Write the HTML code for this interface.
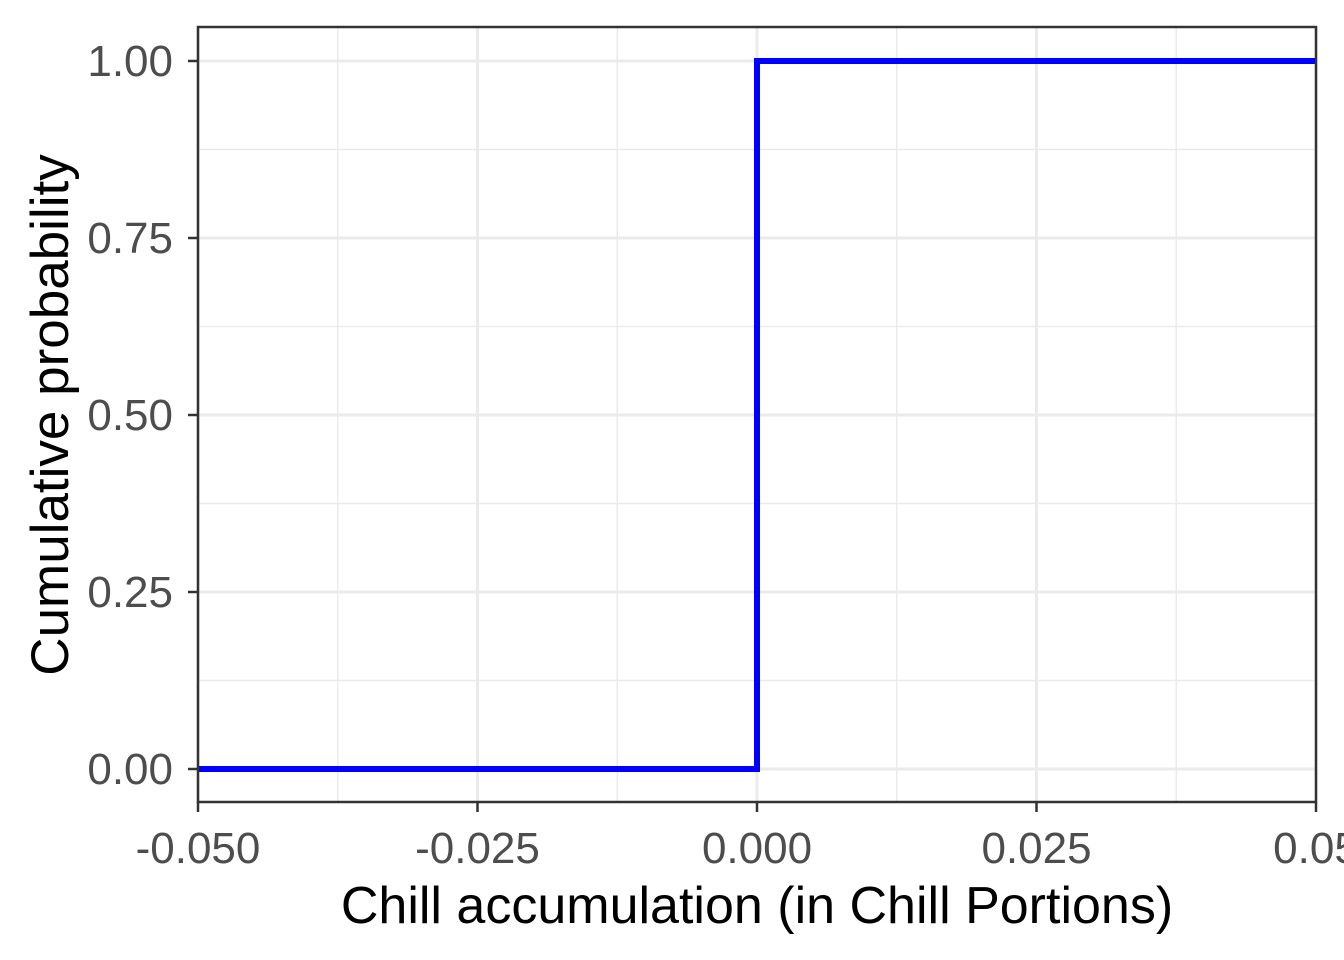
<!DOCTYPE html>
<html><head><meta charset="utf-8"><style>
body{margin:0;background:#fff}
svg{display:block;font-family:"Liberation Sans",sans-serif}
</style></head><body>
<svg id="c" width="1344" height="960"></svg>
<script>
const xTicks=[-0.05,-0.025,0,0.025,0.05];
const xTickLabels=["-0.050","-0.025","0.000","0.025","0.05"];
const yTicks=[0,0.25,0.5,0.75,1];
const yTickLabels=["0.00","0.25","0.50","0.75","1.00"];
const stepX=[-0.05,0,0,0.05];
const stepY=[0,0,1,1];
const L=198,R=1316,T=27,B=802;
const sx=v=>L+(v+0.05)/0.1*(R-L);
const sy=v=>769-v*(769-61);
const s=document.getElementById('c');
const NS='http://www.w3.org/2000/svg';
function mk(t,a,txt){const e=document.createElementNS(NS,t);for(const k in a)e.setAttribute(k,a[k]);if(txt!==undefined)e.textContent=txt;s.appendChild(e);return e;}
for(let i=0;i<xTicks.length-1;i++){const e=mk('line',{x1:sx((xTicks[i]+xTicks[i+1])/2),x2:sx((xTicks[i]+xTicks[i+1])/2),y1:T,y2:B,stroke:'#ebebeb','stroke-width':1.5});

}
for(let i=0;i<yTicks.length-1;i++){const e=mk('line',{x1:L,x2:R,y1:sy((yTicks[i]+yTicks[i+1])/2),y2:sy((yTicks[i]+yTicks[i+1])/2),stroke:'#ebebeb','stroke-width':1.5});

}
xTicks.forEach((v,i)=>{const g=mk('line',{x1:sx(v),x2:sx(v),y1:T,y2:B,stroke:'#ebebeb','stroke-width':3});


const t=mk('line',{x1:sx(v),x2:sx(v),y1:B,y2:B+10,stroke:'#333','stroke-width':2.5});


const l=mk('text',{x:sx(v),y:863,'text-anchor':'middle','font-size':44,fill:'#4d4d4d'},xTickLabels[i]);

});
yTicks.forEach((v,i)=>{const g=mk('line',{x1:L,x2:R,y1:sy(v),y2:sy(v),stroke:'#ebebeb','stroke-width':3});


const t=mk('line',{x1:L-10,x2:L,y1:sy(v),y2:sy(v),stroke:'#333','stroke-width':2.5});


const l=mk('text',{x:L-25,y:sy(v)+15,'text-anchor':'end','font-size':44,fill:'#4d4d4d'},yTickLabels[i]);

});
const line=mk('polyline',{points:stepX.map((x,i)=>sx(x)+','+sy(stepY[i])).join(' '),fill:'none',stroke:'#0000ff','stroke-width':6});


const bd=mk('rect',{x:L,y:T,width:R-L,height:B-T,fill:'none',stroke:'#333','stroke-width':2.5});


const xt=mk('text',{x:757,y:923,'text-anchor':'middle','font-size':52,fill:'#000'},'Chill accumulation (in Chill Portions)');


const yt=mk('text',{x:0,y:0,'text-anchor':'middle','font-size':53,fill:'#000',transform:'translate(68,415) rotate(-90)'},'Cumulative probability');


</script>
</body></html>
